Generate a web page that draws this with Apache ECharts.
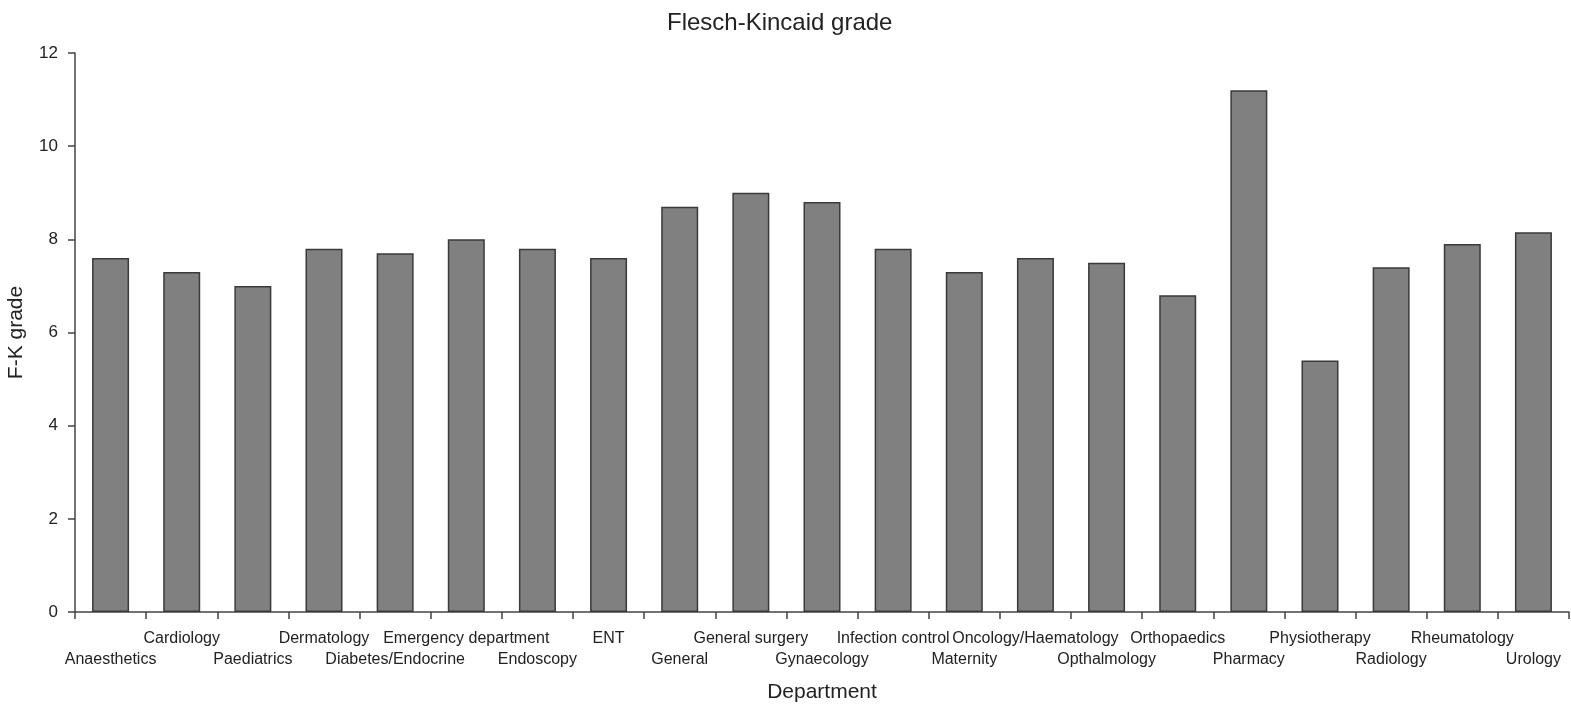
<!DOCTYPE html>
<html><head><meta charset="utf-8">
<script src="https://cdn.jsdelivr.net/npm/echarts@6/dist/echarts.min.js"></script>
<style>html,body{margin:0;padding:0;background:#fff}#c{width:1571px;height:706px}</style>
</head><body><div id="c"></div>
<script>
const categories = ["Anaesthetics","Cardiology","Paediatrics","Dermatology","Diabetes/Endocrine","Emergency department","Endoscopy","ENT","General","General surgery","Gynaecology","Infection control","Maternity","Oncology/Haematology","Opthalmology","Orthopaedics","Pharmacy","Physiotherapy","Radiology","Rheumatology","Urology"];
const fkGrade = [7.6,7.3,7.0,7.8,7.7,8.0,7.8,7.6,8.7,9.0,8.8,7.8,7.3,7.6,7.5,6.8,11.2,5.4,7.4,7.9,8.15];
const chart = echarts.init(document.getElementById('c'));
const font = 'Liberation Sans, Arial, sans-serif';
chart.setOption({
  animation: false,
  title: {text: 'Flesch-Kincaid grade', left: 662, top: 6, textStyle: {fontFamily: font, fontSize: 24, fontWeight: 'normal', color: '#222'}},
  grid: {left: 75, right: 2, top: 53, bottom: 94, outerBoundsMode: 'none', containLabel: false},
  xAxis: {
    type: 'category', data: categories,
    name: 'Department', nameLocation: 'middle', nameGap: 70,
    nameTextStyle: {fontFamily: font, fontSize: 21, color: '#222'},
    axisLine: {lineStyle: {color: '#444', width: 1.5}},
    axisTick: {show: true, length: 7, lineStyle: {color: '#444', width: 1.5}},
    axisLabel: {interval: 0, margin: 16, fontFamily: font, fontSize: 16, color: '#222', lineHeight: 21,
      formatter: (v, i) => (i % 2 === 0 ? '\n' + v : v + '\n')}
  },
  yAxis: {
    type: 'value', min: 0, max: 12, interval: 2,
    name: 'F-K grade', nameLocation: 'middle', nameGap: 48,
    nameTextStyle: {fontFamily: font, fontSize: 21, color: '#222'},
    splitLine: {show: false},
    axisLine: {show: true, lineStyle: {color: '#444', width: 1.5}},
    axisTick: {show: true, length: 7, lineStyle: {color: '#444', width: 1.5}},
    axisLabel: {margin: 17, fontFamily: font, fontSize: 17, color: '#222'}
  },
  series: [{
    type: 'bar', data: fkGrade, barWidth: '52%',
    itemStyle: {color: '#808080', borderColor: '#3a3a3a', borderWidth: 1.5}
  }]
});
</script></body></html>
